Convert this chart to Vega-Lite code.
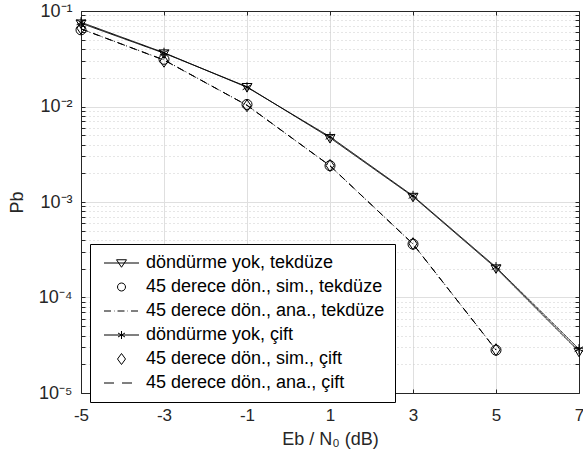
{
  "$schema": "https://vega.github.io/schema/vega-lite/v6.json",
  "width": 498,
  "height": 382,
  "autosize": {"type": "none"},
  "padding": {"left": 81, "top": 11, "right": 4, "bottom": 68},
  "background": "white",
  "config": {
    "view": {"stroke": null},
    "font": "Liberation Sans",
    "legend": {
      "orient": "none",
      "legendX": 9,
      "legendY": 233,
      "labelFontSize": 18,
      "labelFont": "Liberation Sans",
      "labelColor": "black",
      "labelLimit": 600,
      "symbolSize": 100,
      "symbolStrokeWidth": 1,
      "symbolStrokeColor": "black",
      "symbolFillColor": "transparent",
      "strokeColor": "black",
      "fillColor": "white",
      "strokeWidth": 1,
      "padding": 10,
      "rowPadding": 6,
      "labelOffset": 28
    }
  },
  "datasets": {
    "d": [
      {"x": -5, "y": 0.0745, "s": "döndürme yok, tekdüze"},
      {"x": -3, "y": 0.0362, "s": "döndürme yok, tekdüze"},
      {"x": -1, "y": 0.0161, "s": "döndürme yok, tekdüze"},
      {"x": 1, "y": 0.0047, "s": "döndürme yok, tekdüze"},
      {"x": 3, "y": 0.00114, "s": "döndürme yok, tekdüze"},
      {"x": 5, "y": 0.000203, "s": "döndürme yok, tekdüze"},
      {"x": 7, "y": 0.0000272, "s": "döndürme yok, tekdüze"},
      {"x": -5, "y": 0.0635, "s": "45 derece dön., sim., tekdüze"},
      {"x": -3, "y": 0.0312, "s": "45 derece dön., sim., tekdüze"},
      {"x": -1, "y": 0.0105, "s": "45 derece dön., sim., tekdüze"},
      {"x": 1, "y": 0.0024, "s": "45 derece dön., sim., tekdüze"},
      {"x": 3, "y": 0.000362, "s": "45 derece dön., sim., tekdüze"},
      {"x": 5, "y": 0.0000281, "s": "45 derece dön., sim., tekdüze"},
      {"x": -5, "y": 0.0648, "s": "45 derece dön., ana., tekdüze"},
      {"x": -3, "y": 0.0308, "s": "45 derece dön., ana., tekdüze"},
      {"x": -1, "y": 0.0103, "s": "45 derece dön., ana., tekdüze"},
      {"x": 1, "y": 0.00239, "s": "45 derece dön., ana., tekdüze"},
      {"x": 3, "y": 0.000364, "s": "45 derece dön., ana., tekdüze"},
      {"x": 5, "y": 0.0000282, "s": "45 derece dön., ana., tekdüze"},
      {"x": -5, "y": 0.0762, "s": "döndürme yok, çift"},
      {"x": -3, "y": 0.0366, "s": "döndürme yok, çift"},
      {"x": -1, "y": 0.0159, "s": "döndürme yok, çift"},
      {"x": 1, "y": 0.00482, "s": "döndürme yok, çift"},
      {"x": 3, "y": 0.00116, "s": "döndürme yok, çift"},
      {"x": 5, "y": 0.000208, "s": "döndürme yok, çift"},
      {"x": 7, "y": 0.0000288, "s": "döndürme yok, çift"},
      {"x": -5, "y": 0.066, "s": "45 derece dön., sim., çift"},
      {"x": -3, "y": 0.0298, "s": "45 derece dön., sim., çift"},
      {"x": -1, "y": 0.0102, "s": "45 derece dön., sim., çift"},
      {"x": 1, "y": 0.00241, "s": "45 derece dön., sim., çift"},
      {"x": 3, "y": 0.000366, "s": "45 derece dön., sim., çift"},
      {"x": 5, "y": 0.0000284, "s": "45 derece dön., sim., çift"},
      {"x": -5, "y": 0.0652, "s": "45 derece dön., ana., çift"},
      {"x": -3, "y": 0.0306, "s": "45 derece dön., ana., çift"},
      {"x": -1, "y": 0.0103, "s": "45 derece dön., ana., çift"},
      {"x": 1, "y": 0.0024, "s": "45 derece dön., ana., çift"},
      {"x": 3, "y": 0.000363, "s": "45 derece dön., ana., çift"},
      {"x": 5, "y": 0.0000283, "s": "45 derece dön., ana., çift"}
    ]
  },
  "layer": [
    {
      "data": {"name": "d"},
      "transform": [{"filter": {"field": "s", "oneOf": ["döndürme yok, tekdüze", "45 derece dön., ana., tekdüze", "döndürme yok, çift", "45 derece dön., ana., çift"]}}],
      "mark": {"type": "line", "color": "black", "strokeWidth": 1, "clip": true},
      "encoding": {
        "x": {
          "field": "x", "type": "quantitative",
          "scale": {"domain": [-5, 7], "nice": false, "zero": false},
          "axis": {
            "orient": "bottom",
            "values": [-5, -3, -1, 1, 3, 5, 7],
            "labelExpr": "'' + datum.value",
            "grid": true, "gridColor": "#dfdfdf", "gridWidth": 1,
            "tickSize": -4, "tickColor": "#262626", "domainColor": "#262626",
            "labelFontSize": 17, "labelColor": "#262626", "labelPadding": 18,
            "labelFlush": false, "labelOverlap": false,
            "title": "Eb / N₀ (dB)", "titleFontSize": 18, "titleFontWeight": "normal",
            "titleColor": "#262626", "titlePadding": 7
          }
        },
        "y": {
          "field": "y", "type": "quantitative",
          "scale": {"type": "log", "domain": [0.00001, 0.1], "nice": false},
          "axis": {
            "orient": "left",
            "values": [0.00001, 0.00002, 0.00003, 0.00004, 0.00005, 0.00006, 0.00007, 0.00008, 0.00009, 0.0001, 0.0002, 0.0003, 0.0004, 0.0005, 0.0006, 0.0007, 0.0008, 0.0009, 0.001, 0.002, 0.003, 0.004, 0.005, 0.006, 0.007, 0.008, 0.009, 0.01, 0.02, 0.03, 0.04, 0.05, 0.06, 0.07, 0.08, 0.09, 0.1],
            "labelExpr": "datum.value == 0.1 ? '10⁻¹' : datum.value == 0.01 ? '10⁻²' : datum.value == 0.001 ? '10⁻³' : datum.value == 0.0001 ? '10⁻⁴' : datum.value == 0.00001 ? '10⁻⁵' : ''",
            "grid": true,
            "gridColor": {"condition": {"test": "indexof([0.00001, 0.0001, 0.001, 0.01, 0.1], datum.value) >= 0", "value": "#dfdfdf"}, "value": "#cccccc"},
            "gridDash": {"condition": {"test": "indexof([0.00001, 0.0001, 0.001, 0.01, 0.1], datum.value) >= 0", "value": []}, "value": [1, 3]},
            "tickSize": -4, "tickColor": "#262626", "domainColor": "#262626",
            "labelFontSize": 18, "labelColor": "#262626", "labelPadding": 13,
            "labelFlush": false, "labelOverlap": false,
            "title": "Pb", "titleFontSize": 18, "titleFontWeight": "normal",
            "titleColor": "#262626", "titlePadding": 12
          }
        },
        "strokeDash": {
          "field": "s", "type": "nominal",
          "scale": {"domain": ["döndürme yok, tekdüze", "45 derece dön., ana., tekdüze", "döndürme yok, çift", "45 derece dön., ana., çift"], "range": [[1, 0], [6, 3, 1, 3], [1, 0], [8, 5]]},
          "legend": null
        }
      }
    },
    {
      "data": {"name": "d"},
      "transform": [{"filter": {"field": "s", "oneOf": ["döndürme yok, tekdüze", "45 derece dön., sim., tekdüze", "döndürme yok, çift", "45 derece dön., sim., çift"]}}],
      "mark": {"type": "point", "filled": false, "color": "black", "strokeWidth": 1, "opacity": 1, "size": 100},
      "encoding": {
        "x": {"field": "x", "type": "quantitative", "axis": null},
        "y": {"field": "y", "type": "quantitative", "axis": null},
        "shape": {
          "field": "s", "type": "nominal",
          "scale": {"domain": ["döndürme yok, tekdüze", "45 derece dön., sim., tekdüze", "döndürme yok, çift", "45 derece dön., sim., çift"],
                    "range": ["M-1,-0.65L1,-0.65L0,1.05Z", "circle", "M0,-1L0,1M-0.87,-0.5L0.87,0.5M-0.87,0.5L0.87,-0.5", "M0,-1.2L0.8,0L0,1.2L-0.8,0Z"]},
          "legend": null
        }
      }
    },
    {
      "data": {"name": "d"},
      "transform": [{"filter": "datum.x > 100"}],
      "mark": {"type": "point", "filled": false, "color": "black", "strokeWidth": 1, "opacity": 1},
      "encoding": {
        "x": {
          "field": "x", "type": "quantitative",
          "axis": {"orient": "top", "values": [-5, -3, -1, 1, 3, 5, 7], "labels": false, "grid": false, "tickSize": -4, "tickColor": "#262626", "domainColor": "#262626", "title": null}
        },
        "y": {
          "field": "y", "type": "quantitative",
          "axis": {"orient": "right", "values": [0.00001, 0.00002, 0.00003, 0.00004, 0.00005, 0.00006, 0.00007, 0.00008, 0.00009, 0.0001, 0.0002, 0.0003, 0.0004, 0.0005, 0.0006, 0.0007, 0.0008, 0.0009, 0.001, 0.002, 0.003, 0.004, 0.005, 0.006, 0.007, 0.008, 0.009, 0.01, 0.02, 0.03, 0.04, 0.05, 0.06, 0.07, 0.08, 0.09, 0.1], "labels": false, "grid": false, "tickSize": -4, "tickColor": "#262626", "domainColor": "#262626", "title": null}
        },
        "shape": {
          "field": "s", "type": "nominal",
          "scale": {
            "domain": ["döndürme yok, tekdüze", "45 derece dön., sim., tekdüze", "45 derece dön., ana., tekdüze", "döndürme yok, çift", "45 derece dön., sim., çift", "45 derece dön., ana., çift"],
            "range": [
              "M-1,0L6,0M1.5,-0.65L3.5,-0.65L2.5,0.85Z",
              "M3.3,0A0.8,0.8,0,1,1,1.7,0A0.8,0.8,0,1,1,3.3,0Z",
              "M-1,0L0.4,0M1,0L1.1,0M1.7,0L3.1,0M3.7,0L3.8,0M4.4,0L5.8,0",
              "M-1,0L6,0M2.5,-0.8L2.5,0.8M1.8,-0.4L3.2,0.4M1.8,0.4L3.2,-0.4",
              "M2.5,-1.1L3.3,0L2.5,1.1L1.7,0Z",
              "M-1,0L1,0M2.6,0L4.6,0"
            ]
          },
          "legend": {"title": null}
        }
      }
    }
  ],
  "resolve": {
    "scale": {"shape": "independent"},
    "axis": {"x": "independent", "y": "independent"},
    "legend": {"shape": "independent"}
  }
}
